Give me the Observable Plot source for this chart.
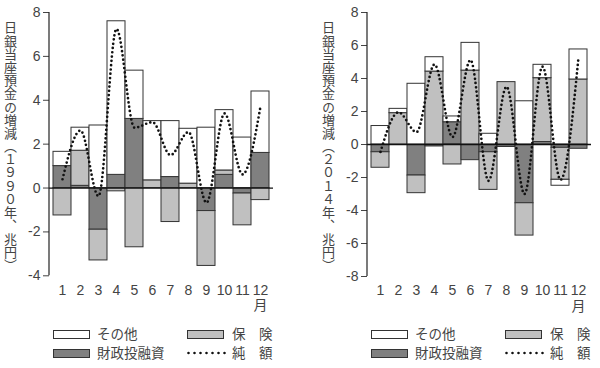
<!DOCTYPE html>
<html><head><meta charset="utf-8">
<script src="https://cdn.jsdelivr.net/npm/d3@7"></script>
<script src="https://cdn.jsdelivr.net/npm/@observablehq/plot@0.6"></script>
<style>
body{margin:0;background:#fff;}
#wrap{position:relative;width:600px;height:368px;overflow:hidden;font-family:"Noto Sans CJK JP","Liberation Sans",sans-serif;color:#444;}
.panel{position:absolute;top:0;}
.ylab{position:absolute;top:21px;writing-mode:vertical-rl;font-size:13px;line-height:1;color:#444;letter-spacing:0.2px;}
.leg{position:absolute;font-size:13.5px;line-height:1;color:#444;white-space:nowrap;}
.sw{position:absolute;width:35px;height:7px;border:1px solid #333;box-sizing:content-box;}
</style></head>
<body><div id="wrap"></div>
<script>
const months = [1,2,3,4,5,6,7,8,9,10,11,12];
const types = ["財政投融資","保険","その他"];
const typeFills = ["#808080","#c0c0c0","#ffffff"];

const fiscal1990 = [1.0, 0.1, -1.9, 0.6, 3.15, 0, 0.5, 0, -1.05, 0.6, -0.25, 1.6];
const insurance1990 = [-1.25, 1.6, -1.4, -0.15, -2.7, 0.35, -1.55, 0.2, -2.5, 0.2, -1.45, -0.55];
const other1990 = [0.65, 1.05, 2.85, 7.0, 2.2, 2.7, 2.55, 2.5, 2.75, 2.75, 2.3, 2.8];
const net1990 = [0.4, 2.62, -0.37, 7.25, 2.75, 3.0, 1.5, 2.55, -0.67, 3.4, 0.62, 3.72];

const fiscal2014 = [-0.47, 0, -1.88, -0.12, 1.35, -0.95, -0.47, -0.15, -3.56, 0.15, -0.2, -0.26];
const insurance2014 = [-0.94, 1.9, -1.07, 4.42, -1.21, 4.48, -2.28, 3.78, -1.96, 3.87, -1.94, 3.94];
const other2014 = [1.12, 0.26, 3.68, 0.87, 0.35, 1.68, 0.65, 0, 2.62, 0.81, -0.36, 1.82];
const net2014 = [-0.45, 1.95, 0.75, 4.85, 0.45, 5.12, -2.2, 3.5, -3.0, 4.72, -2.14, 5.28];

const ticks1990 = [-4,-2,0,2,4,6,8];
const ticks2014 = [-8,-6,-4,-2,0,2,4,6,8];

function rowsOf(f, ins, oth) {
  const rows = [];
  months.forEach((m, i) => {
    rows.push({month: m, type: types[0], value: f[i]});
    rows.push({month: m, type: types[1], value: ins[i]});
    rows.push({month: m, type: types[2], value: oth[i]});
  });
  return rows;
}

function chart(rows, net, yDomain, yTicks, mb) {
  const netRows = months.map((m, i) => ({month: m, net: net[i]}));
  const axisLine = (index, scales, values, dims) => {
    const l = document.createElementNS("http://www.w3.org/2000/svg", "line");
    l.setAttribute("x1", dims.marginLeft); l.setAttribute("x2", dims.marginLeft);
    l.setAttribute("y1", scales.y(yDomain[1])); l.setAttribute("y2", scales.y(yDomain[0]));
    l.setAttribute("stroke", "#222"); l.setAttribute("stroke-width", 1.2);
    return l;
  };
  return Plot.plot({
    width: 282, height: 310,
    marginLeft: 49, marginRight: 9, marginTop: 12, marginBottom: mb,
    style: {fontFamily: "'Liberation Sans', 'Noto Sans CJK JP', sans-serif", fontSize: "14px", color: "#444", background: "transparent", overflow: "visible"},
    x: {type: "band", domain: months, padding: 0, label: null},
    y: {domain: yDomain, label: null},
    color: {domain: types, range: typeFills},
    marks: [
      Plot.barY(rows, {x: "month", y: "value", fill: "type", stroke: "#333", strokeWidth: 1}),
      Plot.ruleY([0], {stroke: "#111", strokeWidth: 1.3}),
      Plot.line(netRows, {x: "month", y: "net", curve: "monotone-x", stroke: "#111", strokeWidth: 2.7, strokeDasharray: "0 4.3", strokeLinecap: "round"}),
      Plot.axisY({ticks: yTicks, tickSize: 6, tickPadding: 3, tickFormat: d => String(d), label: null}),
      Plot.axisX({tickSize: 0, tickPadding: 8, lineHeight: 1.1, tickFormat: m => m === 12 ? "12\n月" : String(m), label: null}),
      axisLine
    ]
  });
}

const wrap = document.getElementById("wrap");
function addPanel(left, plot, label) {
  const p = document.createElement("div");
  p.className = "panel"; p.style.left = left + "px";
  p.appendChild(plot);
  wrap.appendChild(p);
  const yl = document.createElement("div");
  yl.className = "ylab"; yl.style.left = (left + 4) + "px";
  yl.textContent = label;
  wrap.appendChild(yl);
}
addPanel(0, chart(rowsOf(fiscal1990, insurance1990, other1990), net1990, [-4, 8], ticks1990, 34.7), "日銀当座預金の増減（１９９０年、兆円）");
addPanel(318, chart(rowsOf(fiscal2014, insurance2014, other2014), net2014, [-8, 8], ticks2014, 34), "日銀当座預金の増減（２０１４年、兆円）");

function addLegend(off) {
  const items = [
    {x: 53, y: 330, fill: "#ffffff", text: "その他"},
    {x: 187, y: 330, fill: "#c0c0c0", text: "保　険"},
    {x: 53, y: 349, fill: "#808080", text: "財政投融資"},
    {x: 187, y: 349, fill: null, text: "純　額"}
  ];
  items.forEach(it => {
    if (it.fill) {
      const s = document.createElement("div");
      s.className = "sw"; s.style.left = (off + it.x) + "px"; s.style.top = it.y + "px"; s.style.background = it.fill;
      wrap.appendChild(s);
    } else {
      const svg = d3.create("svg").attr("width", 40).attr("height", 10)
        .style("position", "absolute").style("left", (off + it.x) + "px").style("top", (it.y - 1) + "px");
      svg.append("line").attr("x1", 1.5).attr("x2", 38).attr("y1", 5).attr("y2", 5)
        .attr("stroke", "#111").attr("stroke-width", 2.6).attr("stroke-dasharray", "0 6").attr("stroke-linecap", "round");
      wrap.appendChild(svg.node());
    }
    const t = document.createElement("div");
    t.className = "leg"; t.textContent = it.text;
    t.style.left = (off + it.x + (it.x === 53 ? 44 : 45)) + "px"; t.style.top = (it.y - 3) + "px";
    wrap.appendChild(t);
  });
}
addLegend(0);
addLegend(318);
</script></body></html>
